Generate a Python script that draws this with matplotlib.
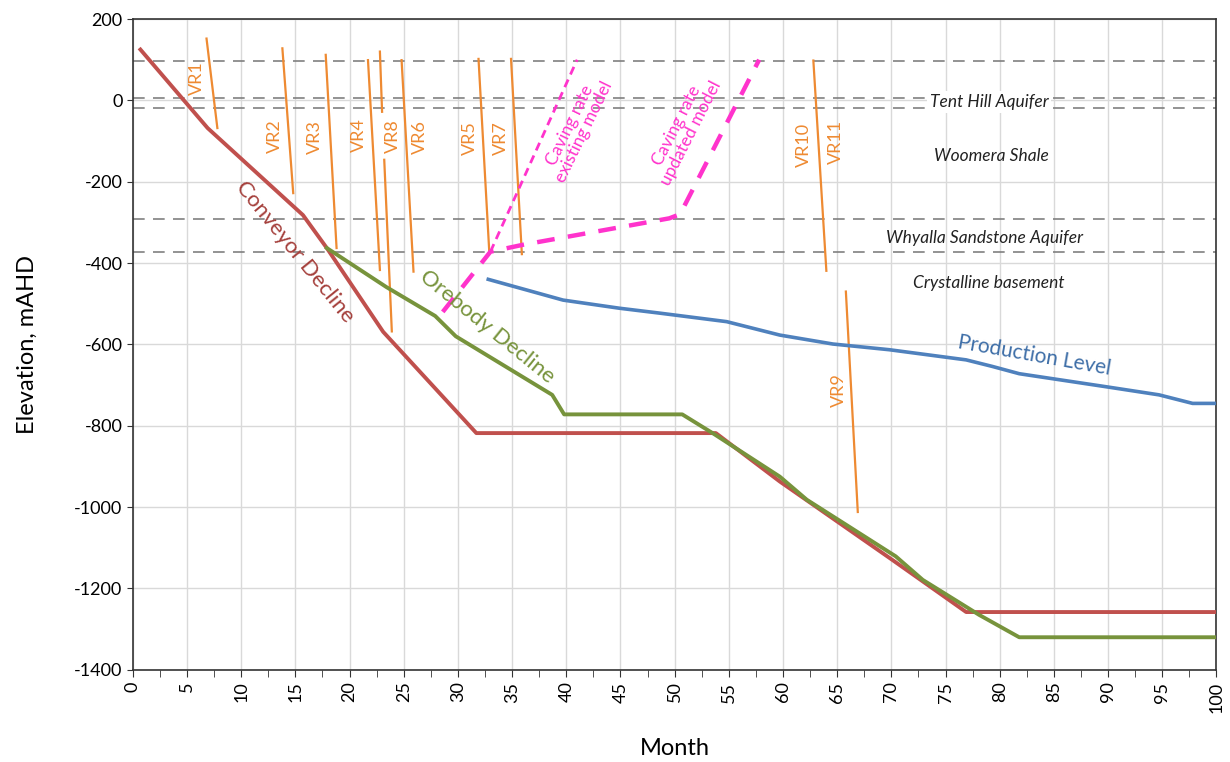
import numpy as np
import matplotlib.pyplot as plt
from matplotlib.ticker import MultipleLocator

plt.rcParams['font.family'] = ['Lato', 'DejaVu Sans']
plt.rcParams['axes.unicode_minus'] = False

# Conveyor decline (month, elevation)
conv_month = [0.7, 6.9, 15.7, 17.9, 23.1, 31.7, 53.8, 59.7, 70.1, 76.9, 100]
conv_elev = [125, -68, -282, -363, -569, -818, -818, -937, -1130, -1258, -1258]

# Orebody decline
ore_month = [17.9, 23.4, 27.9, 29.8, 38.7, 39.8, 50.7, 53.5, 59.7, 62.2, 70.4, 72.9, 78.1, 81.8, 100]
ore_elev = [-363, -459, -530, -580, -724, -772, -772, -818, -925, -982, -1121, -1179, -1265, -1320, -1320]

# Production level
prod_month = [32.8, 39.7, 44.9, 48.6, 54.8, 59.7, 64.6, 69.8, 76.9, 79.3, 81.8, 89.8, 94.7, 97.8, 100]
prod_elev = [-440, -491, -511, -523, -544, -577, -599, -613, -638, -654, -672, -704, -724, -745, -745]

# Caving rate models
cave_exist_month = [33.0, 41.0]
cave_exist_elev = [-372, 100]
cave_upd_month = [28.6, 33.0, 36.0, 49.5, 50.5, 57.8]
cave_upd_elev = [-520, -372, -355, -290, -280, 100]

# Vent raises: start/end month, top/bottom elevation
vr_names = ['VR1', 'VR2', 'VR3', 'VR4', 'VR8', 'VR8', 'VR6', 'VR5', 'VR7', 'VR10', 'VR9']
vr_m0 = [6.8, 13.8, 17.8, 21.7, 22.8, 23.2, 24.8, 31.9, 34.9, 62.8, 65.8]
vr_m1 = [7.8, 14.8, 18.8, 22.8, 23.0, 23.9, 25.9, 32.9, 35.9, 64.0, 66.9]
vr_e0 = [152, 128, 112, 99, 120, -146, 99, 102, 102, 98, -470]
vr_e1 = [-68, -228, -363, -417, -28, -568, -421, -376, -378, -419, -1012]

vr_lab = ['VR1', 'VR2', 'VR3', 'VR4', 'VR8', 'VR6', 'VR5', 'VR7', 'VR10', 'VR11', 'VR9']
vr_lab_m = [5.9, 13.1, 16.8, 20.9, 24.0, 26.5, 31.1, 34.0, 61.9, 64.9, 65.2]
vr_lab_e = [54, -89, -89, -85, -89, -89, -93, -93, -110, -102, -712]

# Formation boundaries
bound_elev = [97, 7, -18, -291, -373]
form_names = ['Tent Hill Aquifer', 'Woomera Shale', 'Whyalla Sandstone Aquifer', 'Crystalline basement']
form_elev = [-4, -136, -338, -448]
form_month = [79.0, 79.2, 78.6, 79.0]

RED = '#C0504D'
GREEN = '#77933C'
BLUE = '#4F81BD'
ORANGE = '#EE8A32'
PINK = '#FF33CC'

fig = plt.figure(figsize=(12.3, 7.62), dpi=100)
ax = fig.add_axes([0.108, 0.121, 0.881, 0.854])

ax.set_xlim(0, 100)
ax.set_ylim(-1400, 200)
ax.xaxis.set_major_locator(MultipleLocator(5))
ax.xaxis.set_minor_locator(MultipleLocator(2.5))
ax.yaxis.set_major_locator(MultipleLocator(200))
ax.grid(True, which='major', color='#D9D9D9', lw=1)
ax.set_axisbelow(True)
for s in ax.spines.values():
    s.set_color('#333333')
    s.set_linewidth(1.2)

for e in bound_elev:
    ax.axhline(e, color='#808080', lw=1.2, ls=(0, (7, 5)), zorder=1)

for i in range(len(vr_names)):
    ax.plot([vr_m0[i], vr_m1[i]], [vr_e0[i], vr_e1[i]], color=ORANGE, lw=1.6, zorder=2)
for n, m, e in zip(vr_lab, vr_lab_m, vr_lab_e):
    ax.text(m, e, n, color=ORANGE, fontsize=13, rotation=90, ha='center', va='center')

ax.plot(cave_exist_month, cave_exist_elev, color=PINK, lw=2, ls=(0, (3, 2)), zorder=3)
ax.plot(cave_upd_month, cave_upd_elev, color=PINK, lw=3.2, ls=(0, (4, 3)), zorder=3)

ax.plot(conv_month, conv_elev, color=RED, lw=2.8, zorder=4)
ax.plot(ore_month, ore_elev, color=GREEN, lw=2.8, zorder=5)
ax.plot(prod_month, prod_elev, color=BLUE, lw=2.6, zorder=4)

ax.text(15.0, -372, 'Conveyor Decline', color='#A5403C', fontsize=16, rotation=-51,
        ha='center', va='center', rotation_mode='anchor')
ax.text(32.7, -557, 'Orebody Decline', color=GREEN, fontsize=16, rotation=-39,
        ha='center', va='center', rotation_mode='anchor')
ax.text(83.2, -628, 'Production Level', color='#3F6FA8', fontsize=15, rotation=-10,
        ha='center', va='center', rotation_mode='anchor')
ax.text(41.0, -70, 'Caving rate\nexisting model', color=PINK, fontsize=12.5, rotation=64,
        ha='center', va='center', rotation_mode='anchor', linespacing=1.0)
ax.text(50.8, -72, 'Caving rate\nupdated model', color=PINK, fontsize=12.5, rotation=63,
        ha='center', va='center', rotation_mode='anchor', linespacing=1.0)

for i, (n, m, e) in enumerate(zip(form_names, form_month, form_elev)):
    kw = {}
    if i == 0:
        kw['bbox'] = dict(facecolor='white', edgecolor='none', pad=2)
    ax.text(m, e, n, fontsize=12.5, style='italic', color='#222222',
            ha='center', va='center', **kw)

ax.tick_params(axis='x', which='both', direction='out', labelsize=13, labelrotation=90,
               length=5, color='#333333')
ax.tick_params(axis='y', direction='out', labelsize=13, length=4, color='#333333')
ax.set_xlabel('Month', fontsize=17, labelpad=18)
ax.set_ylabel('Elevation, mAHD', fontsize=17, labelpad=26)

fig.savefig('out.png', dpi=100)
